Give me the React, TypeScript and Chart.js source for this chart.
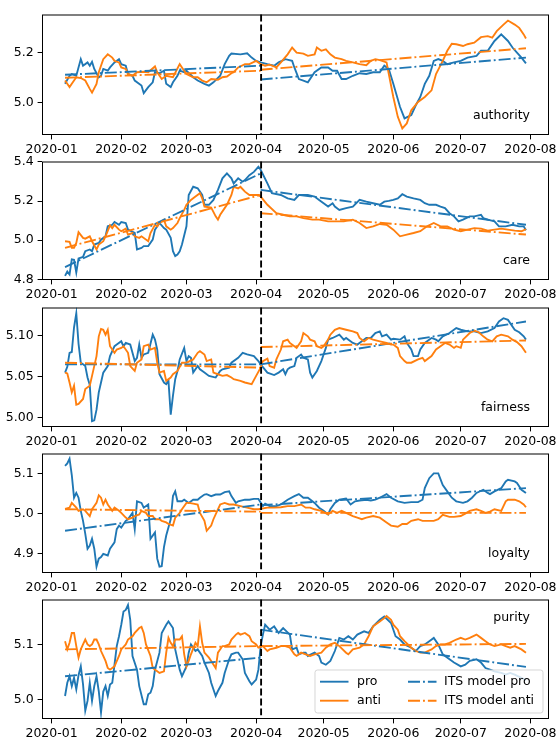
import React, { useEffect, useRef } from "react";
import { Chart, registerables } from "chart.js";

Chart.register(...registerables);
Chart.defaults.font.family = "'DejaVu Sans', sans-serif";

type Pt = [number, number];

// ---------- axes ----------
const monthTickDays = [0, 31, 60, 91, 121, 152, 182, 213];
const monthTickLabels = ["2020-01", "2020-02", "2020-03", "2020-04", "2020-05", "2020-06", "2020-07", "2020-08"];
const interventionDay = 93.2;
const xMin = -4.25;
const xMax = 221.25;

const panelNames = ["authority", "care", "fairness", "loyalty", "purity"];
const legendLabels = ["pro", "anti", "ITS model pro", "ITS model anti"];

// ---------- authority ----------
const authorityPro: Pt[] = [[6,5.076],[8,5.108],[9,5.115],[11,5.108],[13,5.174],[14,5.148],[16,5.161],[17,5.148],[18,5.163],[19,5.135],[21,5.102],[22,5.108],[23,5.135],[25,5.128],[26,5.141],[28,5.161],[30,5.174],[31,5.154],[33,5.148],[34,5.115],[36,5.108],[37,5.089],[40,5.069],[41,5.039],[43,5.063],[45,5.082],[46,5.122],[48,5.118],[50,5.128],[51,5.076],[53,5.063],[54,5.082],[56,5.108],[57,5.128],[59,5.122],[60,5.128],[63,5.102],[65,5.089],[68,5.076],[70,5.069],[72,5.082],[75,5.108],[77,5.154],[79,5.187],[80,5.196],[84,5.193],[87,5.197],[89,5.18],[91,5.167],[93,5.161],[96,5.154],[99,5.148],[101,5.161],[104,5.174],[107,5.167],[108,5.141],[110,5.095],[112,5.089],[114,5.082],[117,5.122],[120,5.141],[123,5.141],[125,5.128],[127,5.128],[129,5.095],[131,5.095],[134,5.108],[137,5.118],[140,5.115],[143,5.122],[146,5.122],[148,5.148],[150,5.135],[152,5.076],[155,4.984],[157,4.939],[160,4.952],[162,4.991],[164,5.024],[166,5.076],[168,5.108],[170,5.167],[172,5.174],[174,5.167],[176,5.154],[179,5.161],[182,5.167],[185,5.18],[189,5.187],[191,5.207],[194,5.207],[197,5.246],[200,5.272],[203,5.246],[205,5.22],[207,5.2],[209,5.18],[211,5.157]];
const authorityAnti: Pt[] = [[6,5.089],[8,5.063],[9,5.076],[11,5.102],[13,5.099],[15,5.089],[17,5.056],[18,5.041],[20,5.076],[21,5.122],[23,5.174],[25,5.193],[27,5.18],[28,5.167],[30,5.161],[31,5.141],[33,5.135],[34,5.115],[36,5.108],[38,5.122],[41,5.124],[43,5.122],[46,5.145],[47,5.122],[49,5.095],[51,5.108],[54,5.102],[57,5.154],[58,5.141],[60,5.115],[63,5.102],[65,5.102],[67,5.089],[69,5.082],[71,5.095],[74,5.092],[76,5.102],[78,5.105],[80,5.118],[81,5.122],[83,5.141],[86,5.154],[88,5.154],[91,5.167],[93,5.154],[95,5.148],[97,5.152],[100,5.141],[102,5.161],[105,5.193],[107,5.22],[109,5.2],[112,5.196],[114,5.187],[117,5.193],[118,5.22],[120,5.207],[122,5.213],[124,5.193],[126,5.18],[129,5.174],[131,5.167],[134,5.161],[137,5.154],[140,5.15],[142,5.167],[144,5.174],[146,5.17],[149,5.161],[150,5.115],[152,5.024],[154,4.945],[156,4.899],[158,4.919],[160,4.971],[163,5.004],[166,5.024],[169,5.05],[171,5.115],[174,5.167],[176,5.207],[178,5.235],[180,5.233],[183,5.226],[185,5.233],[188,5.239],[191,5.261],[194,5.265],[196,5.259],[198,5.285],[201,5.311],[203,5.327],[206,5.311],[208,5.298],[210,5.272],[211,5.256]];
const authorityItsPro: Pt[][] = [[[6,5.112],[93,5.148]], [[93,5.093],[211,5.18]]];
const authorityItsAnti: Pt[][] = [[[6,5.1],[93,5.128]], [[93,5.132],[211,5.217]]];

// ---------- care ----------
const carePro: Pt[] = [[6,4.818],[7,4.84],[8,4.825],[9,4.902],[10,4.9],[11,4.835],[12,4.907],[14,4.915],[15,4.944],[17,4.953],[18,4.944],[19,4.978],[21,4.986],[22,5.003],[24,5.02],[25,5.071],[27,5.079],[28,5.093],[30,5.079],[31,5.093],[33,5.088],[34,5.054],[37,5.037],[38,4.953],[40,4.961],[41,4.97],[43,4.97],[45,5.003],[46,5.054],[48,5.088],[50,5.062],[51,5.054],[53,5.012],[54,4.944],[55,4.919],[56,4.927],[57,4.944],[58,4.978],[60,5.071],[61,5.231],[63,5.273],[65,5.265],[67,5.231],[68,5.181],[70,5.181],[72,5.206],[74,5.257],[76,5.316],[78,5.341],[80,5.316],[81,5.29],[83,5.316],[85,5.299],[86,5.307],[88,5.332],[90,5.349],[92,5.375],[93,5.36],[96,5.29],[98,5.24],[102,5.231],[105,5.214],[108,5.206],[110,5.231],[114,5.231],[117,5.223],[119,5.206],[121,5.189],[123,5.172],[125,5.189],[126,5.172],[128,5.155],[131,5.164],[134,5.172],[137,5.206],[140,5.197],[143,5.189],[146,5.181],[148,5.197],[150,5.201],[152,5.206],[154,5.214],[156,5.235],[158,5.223],[161,5.214],[164,5.206],[166,5.189],[168,5.181],[171,5.181],[173,5.172],[175,5.164],[177,5.138],[179,5.122],[181,5.096],[183,5.105],[186,5.122],[188,5.122],[191,5.13],[192,5.113],[194,5.105],[197,5.096],[199,5.071],[202,5.071],[205,5.079],[208,5.071],[210,5.071],[211,5.051]];
const careAnti: Pt[] = [[6,4.995],[8,4.992],[9,4.961],[10,4.961],[11,4.986],[12,5.041],[14,5.012],[15,5.008],[17,5.02],[18,4.995],[20,4.953],[21,4.978],[23,4.995],[24,5.02],[26,5.076],[27,5.062],[28,5.079],[30,5.054],[31,5.046],[33,5.059],[34,5.029],[36,5.037],[37,5.02],[39,5.012],[40,5.02],[43,4.995],[44,5.037],[46,5.079],[47,5.071],[48,5.088],[50,5.105],[51,5.071],[53,5.054],[54,5.062],[56,5.088],[57,5.113],[59,5.155],[60,5.181],[62,5.206],[64,5.223],[66,5.24],[67,5.214],[68,5.172],[71,5.167],[73,5.122],[74,5.105],[75,5.13],[77,5.164],[78,5.181],[80,5.231],[81,5.273],[83,5.265],[84,5.273],[86,5.248],[88,5.231],[90,5.231],[92,5.231],[93,5.223],[96,5.181],[100,5.138],[103,5.13],[106,5.122],[109,5.122],[112,5.113],[116,5.105],[119,5.105],[123,5.096],[126,5.096],[130,5.096],[134,5.105],[137,5.088],[140,5.062],[143,5.071],[146,5.083],[149,5.079],[152,5.054],[155,5.02],[158,5.029],[161,5.037],[164,5.046],[167,5.071],[170,5.088],[173,5.071],[176,5.071],[179,5.054],[182,5.046],[185,5.054],[188,5.062],[191,5.059],[194,5.049],[197,5.054],[200,5.059],[203,5.054],[206,5.049],[209,5.046],[211,5.057]];
const careItsPro: Pt[][] = [[[6,4.863],[93,5.341]], [[93,5.257],[211,5.079]]];
const careItsAnti: Pt[][] = [[[6,4.961],[93,5.231]], [[93,5.138],[211,5.029]]];

// ---------- fairness ----------
const fairnessPro: Pt[] = [[6,5.055],[7,5.062],[8,5.079],[9,5.08],[10,5.11],[11,5.127],[12,5.09],[13,5.067],[14,5.065],[15,5.063],[16,5.049],[17,5.04],[18,4.996],[19,4.997],[20,5.01],[21,5.031],[22,5.043],[23,5.055],[25,5.063],[26,5.075],[28,5.087],[29,5.089],[31,5.093],[32,5.087],[33,5.091],[35,5.089],[37,5.069],[38,5.073],[39,5.089],[40,5.073],[41,5.077],[43,5.079],[45,5.101],[46,5.095],[47,5.083],[48,5.053],[50,5.043],[51,5.041],[52,5.045],[53,5.004],[54,5.027],[55,5.047],[56,5.057],[57,5.071],[59,5.085],[60,5.069],[61,5.075],[62,5.073],[63,5.055],[65,5.063],[66,5.059],[68,5.055],[70,5.051],[73,5.049],[75,5.057],[76,5.059],[79,5.061],[80,5.067],[83,5.073],[85,5.079],[87,5.077],[90,5.075],[92,5.069],[93,5.065],[96,5.055],[99,5.052],[101,5.055],[103,5.059],[104,5.053],[105,5.059],[106,5.061],[108,5.063],[109,5.073],[111,5.077],[112,5.073],[114,5.071],[115,5.055],[116,5.049],[118,5.057],[120,5.069],[122,5.085],[123,5.095],[125,5.097],[128,5.101],[130,5.095],[131,5.097],[134,5.091],[136,5.089],[138,5.093],[140,5.097],[142,5.097],[144,5.103],[146,5.105],[147,5.099],[149,5.101],[151,5.095],[152,5.096],[155,5.095],[157,5.099],[158,5.091],[160,5.083],[161,5.075],[163,5.075],[164,5.083],[166,5.091],[169,5.097],[171,5.095],[172,5.093],[174,5.099],[177,5.103],[180,5.109],[182,5.107],[185,5.105],[188,5.105],[191,5.103],[194,5.105],[197,5.109],[199,5.117],[201,5.121],[203,5.119],[206,5.107],[208,5.104],[210,5.099],[211,5.095]];
const fairnessAnti: Pt[] = [[6,5.055],[7,5.054],[8,5.043],[9,5.031],[10,5.039],[11,5.016],[12,5.017],[14,5.023],[15,5.035],[17,5.039],[18,5.051],[20,5.075],[21,5.099],[22,5.108],[23,5.107],[24,5.101],[25,5.107],[26,5.087],[28,5.079],[29,5.083],[31,5.085],[32,5.087],[34,5.079],[35,5.063],[37,5.057],[38,5.067],[40,5.071],[41,5.087],[43,5.089],[44,5.083],[46,5.085],[47,5.067],[48,5.055],[50,5.057],[51,5.045],[53,5.049],[54,5.053],[56,5.057],[58,5.067],[60,5.067],[63,5.071],[65,5.079],[66,5.081],[68,5.077],[69,5.069],[71,5.071],[72,5.055],[74,5.053],[76,5.051],[78,5.052],[80,5.049],[81,5.047],[84,5.045],[86,5.043],[89,5.041],[91,5.051],[93,5.061],[94,5.069],[96,5.072],[97,5.063],[99,5.061],[100,5.071],[102,5.083],[103,5.093],[105,5.095],[106,5.091],[108,5.087],[109,5.085],[111,5.093],[112,5.103],[114,5.099],[115,5.095],[117,5.093],[118,5.087],[120,5.085],[121,5.087],[123,5.095],[124,5.101],[126,5.107],[128,5.109],[131,5.107],[134,5.105],[136,5.103],[137,5.097],[139,5.093],[141,5.097],[143,5.095],[146,5.093],[149,5.091],[151,5.089],[152,5.089],[154,5.085],[155,5.075],[157,5.069],[158,5.067],[160,5.067],[163,5.071],[165,5.073],[166,5.069],[169,5.075],[171,5.083],[173,5.087],[175,5.091],[177,5.089],[179,5.085],[180,5.087],[182,5.085],[183,5.095],[186,5.103],[188,5.106],[190,5.104],[192,5.099],[194,5.095],[196,5.093],[198,5.099],[200,5.101],[203,5.099],[205,5.095],[207,5.092],[209,5.087],[211,5.079]];
const fairnessItsPro: Pt[][] = [[[6,5.065],[93,5.065]], [[93,5.065],[211,5.117]]];
const fairnessItsAnti: Pt[][] = [[[6,5.067],[93,5.061]], [[93,5.086],[211,5.094]]];

// ---------- loyalty ----------
const loyaltyPro: Pt[] = [[6,5.12],[7,5.126],[8,5.138],[9,5.097],[10,5.04],[11,5.052],[12,5.04],[13,5.007],[14,4.982],[15,4.949],[16,4.912],[17,4.92],[18,4.937],[19,4.912],[20,4.867],[21,4.887],[22,4.891],[23,4.899],[25,4.895],[26,4.912],[28,4.928],[29,4.961],[30,4.97],[31,4.965],[33,4.982],[34,4.986],[36,5.002],[37,4.961],[38,5.031],[40,5.027],[41,5.015],[43,5.023],[44,4.937],[46,4.953],[47,4.887],[48,4.867],[49,4.868],[50,4.916],[51,4.945],[53,4.986],[54,5.044],[55,5.056],[56,5.031],[58,5.031],[59,5.035],[61,5.027],[63,5.035],[65,5.035],[66,5.04],[68,5.048],[69,5.049],[71,5.044],[73,5.048],[75,5.048],[77,5.054],[79,5.056],[80,5.044],[82,5.027],[83,5.031],[86,5.035],[88,5.035],[90,5.037],[92,5.037],[94,5.019],[95,5.025],[97,5.019],[100,5.019],[102,5.023],[105,5.035],[108,5.044],[110,5.049],[112,5.04],[114,5.04],[117,5.027],[119,5.015],[121,5.007],[123,4.998],[124,5.011],[126,5.027],[128,5.035],[131,5.038],[133,5.023],[135,5.031],[137,5.033],[140,5.035],[142,5.033],[144,5.035],[146,5.04],[149,5.049],[151,5.04],[154,5.031],[157,5.027],[160,5.029],[163,5.029],[165,5.035],[166,5.064],[168,5.089],[170,5.101],[172,5.101],[174,5.072],[176,5.056],[178,5.04],[180,5.031],[183,5.027],[185,5.031],[187,5.04],[189,5.052],[192,5.06],[194,5.052],[195,5.049],[197,5.056],[200,5.064],[202,5.081],[203,5.085],[206,5.081],[207,5.077],[209,5.06],[211,5.052]];
const loyaltyAnti: Pt[] = [[6,5.012],[8,5.015],[9,5.027],[11,5.015],[12,5.007],[14,5.011],[15,5.007],[17,4.994],[18,5.011],[20,5.027],[21,5.046],[22,5.04],[23,5.023],[24,5.035],[25,5.023],[27,5.007],[28,5.015],[30,5.007],[31,5.002],[33,4.99],[34,4.986],[36,4.99],[37,4.994],[39,4.998],[40,5.007],[42,5.002],[43,4.994],[45,4.994],[46,4.986],[48,4.986],[49,4.982],[51,4.978],[52,4.974],[54,4.97],[55,4.99],[57,5.002],[58,5.011],[60,5.027],[61,5.027],[63,5.025],[65,5.023],[66,5.002],[68,4.982],[69,4.957],[71,4.97],[72,4.986],[74,5.011],[75,5.023],[77,5.027],[79,5.023],[81,5.023],[84,5.019],[87,5.015],[90,5.011],[92,5.011],[96,5.015],[99,5.015],[102,5.016],[105,5.019],[108,5.019],[111,5.023],[113,5.015],[115,5.015],[117,5.011],[120,5.007],[123,4.998],[125,5.007],[127,5.002],[129,5.007],[131,5.002],[134,4.994],[136,4.99],[138,4.986],[140,4.99],[143,4.994],[146,4.99],[149,4.978],[151,4.97],[154,4.967],[156,4.974],[158,4.974],[160,4.982],[163,4.986],[165,4.982],[167,4.982],[170,4.982],[172,4.986],[174,4.997],[177,4.992],[179,4.992],[182,4.994],[184,5.0],[186,5.007],[189,5.011],[191,5.007],[193,5.002],[195,5.005],[197,5.011],[200,5.007],[202,5.031],[203,5.035],[206,5.035],[208,5.031],[210,5.023],[211,5.016]];
const loyaltyItsPro: Pt[][] = [[[6,4.957],[93,5.023]], [[93,5.021],[211,5.064]]];
const loyaltyItsAnti: Pt[][] = [[[6,5.011],[93,5.005]], [[93,5.002],[211,5.002]]];

// ---------- purity ----------
const purityPro: Pt[] = [[6,5.007],[7,5.031],[8,5.043],[9,5.025],[10,5.04],[11,5.019],[12,5.045],[13,5.061],[14,5.028],[15,4.98],[16,4.998],[17,5.031],[18,4.998],[19,5.025],[20,5.043],[21,5.016],[22,4.977],[23,5.015],[24,5.025],[25,5.007],[26,5.028],[27,5.031],[28,5.064],[29,5.098],[30,5.116],[31,5.137],[32,5.161],[33,5.164],[34,5.173],[35,5.146],[36,5.08],[38,5.055],[39,5.025],[41,4.992],[42,4.992],[43,5.01],[44,5.013],[45,5.025],[46,5.055],[48,5.086],[49,5.122],[51,5.137],[52,5.143],[54,5.131],[55,5.092],[57,5.055],[58,5.043],[60,5.061],[61,5.086],[62,5.101],[64,5.089],[65,5.092],[67,5.08],[68,5.068],[70,5.049],[71,5.031],[73,5.007],[74,5.016],[76,5.031],[77,5.049],[79,5.074],[80,5.083],[82,5.086],[83,5.086],[85,5.074],[86,5.049],[88,5.034],[89,5.028],[91,5.037],[92,5.055],[93,5.098],[94,5.119],[95,5.137],[97,5.128],[99,5.134],[101,5.122],[103,5.131],[106,5.119],[107,5.092],[109,5.095],[110,5.083],[112,5.086],[113,5.086],[114,5.08],[117,5.086],[119,5.08],[120,5.068],[122,5.064],[124,5.071],[126,5.089],[128,5.113],[130,5.11],[132,5.116],[134,5.11],[136,5.119],[139,5.125],[141,5.122],[143,5.134],[146,5.146],[148,5.152],[151,5.14],[153,5.116],[155,5.11],[157,5.101],[160,5.095],[162,5.089],[164,5.098],[166,5.101],[168,5.107],[170,5.113],[172,5.101],[174,5.083],[177,5.074],[179,5.068],[182,5.061],[184,5.064],[186,5.071],[189,5.074],[191,5.068],[193,5.058],[195,5.055],[197,5.052],[200,5.049],[202,5.046],[204,5.049],[206,5.046],[209,5.04],[211,5.036]];
const purityAnti: Pt[] = [[6,5.107],[7,5.092],[8,5.104],[9,5.122],[10,5.122],[11,5.098],[12,5.077],[13,5.092],[14,5.101],[15,5.11],[16,5.101],[17,5.098],[18,5.101],[19,5.11],[20,5.11],[21,5.101],[22,5.089],[23,5.08],[24,5.071],[25,5.058],[26,5.055],[27,5.058],[28,5.061],[30,5.08],[31,5.092],[33,5.101],[34,5.11],[36,5.116],[37,5.122],[39,5.131],[40,5.133],[41,5.122],[42,5.101],[44,5.08],[45,5.058],[47,5.052],[48,5.049],[50,5.052],[51,5.086],[52,5.113],[53,5.104],[54,5.098],[55,5.11],[57,5.11],[58,5.116],[59,5.083],[60,5.061],[61,5.071],[62,5.083],[64,5.104],[65,5.098],[66,5.134],[67,5.104],[68,5.086],[70,5.077],[71,5.071],[73,5.058],[74,5.086],[76,5.098],[77,5.098],[79,5.101],[80,5.11],[82,5.119],[83,5.122],[84,5.119],[86,5.122],[88,5.116],[89,5.107],[91,5.101],[92,5.095],[94,5.098],[96,5.089],[97,5.092],[100,5.095],[102,5.098],[104,5.098],[106,5.095],[108,5.083],[109,5.08],[111,5.086],[113,5.083],[115,5.08],[117,5.083],[120,5.086],[122,5.095],[124,5.101],[126,5.104],[128,5.098],[131,5.086],[132,5.083],[134,5.092],[137,5.095],[139,5.101],[141,5.116],[143,5.134],[146,5.143],[148,5.149],[149,5.153],[151,5.146],[152,5.137],[154,5.128],[155,5.116],[157,5.107],[160,5.095],[162,5.089],[164,5.086],[166,5.086],[169,5.092],[171,5.098],[173,5.101],[175,5.101],[177,5.104],[180,5.11],[182,5.113],[184,5.11],[186,5.113],[189,5.119],[191,5.113],[193,5.107],[195,5.101],[197,5.098],[200,5.101],[202,5.098],[204,5.095],[206,5.098],[209,5.092],[211,5.086]];
const purityItsPro: Pt[][] = [[[6,5.043],[93,5.077]], [[93,5.128],[211,5.06]]];
const purityItsAnti: Pt[][] = [[[6,5.092],[93,5.098]], [[93,5.098],[211,5.102]]];

// ---------- y axes ----------
const authorityYTicks = [5.0, 5.2];
const authorityYLabels = ["5.0", "5.2"];
const careYTicks = [4.8, 5.0, 5.2, 5.4];
const careYLabels = ["4.8", "5.0", "5.2", "5.4"];
const fairnessYTicks = [5.0, 5.05, 5.1];
const fairnessYLabels = ["5.00", "5.05", "5.10"];
const loyaltyYTicks = [4.9, 5.0, 5.1];
const loyaltyYLabels = ["4.9", "5.0", "5.1"];
const purityYTicks = [5.0, 5.1];
const purityYLabels = ["5.0", "5.1"];

const yRanges: Pt[] = [[4.873, 5.351], [4.797, 5.402], [4.989, 5.134], [4.851, 5.151], [4.965, 5.183]];

// ---------- style / layout ----------
const PRO = "#1f77b4";
const ANTI = "#ff7f0e";
const LW = 1.875;
const DASHDOT = [12, 3, 1.9, 3];
const FONT = "12.5px 'DejaVu Sans', sans-serif";
const plotTops = [13, 160, 306, 452, 598];
const plotBottoms = [135, 280, 427, 573, 719];
const PAD_TOP = 10;
const X_AXIS_H = 24;
const Y_AXIS_W = 42;
const RIGHT_PAD = 11;

interface PanelData {
  name: string;
  pro: Pt[];
  anti: Pt[];
  itsPro: Pt[][];
  itsAnti: Pt[][];
  yTicks: number[];
  yLabels: string[];
  labelAtTop: boolean;
  legend: boolean;
}

const panels: PanelData[] = [
  { name: panelNames[0], pro: authorityPro, anti: authorityAnti, itsPro: authorityItsPro, itsAnti: authorityItsAnti, yTicks: authorityYTicks, yLabels: authorityYLabels, labelAtTop: false, legend: false },
  { name: panelNames[1], pro: carePro, anti: careAnti, itsPro: careItsPro, itsAnti: careItsAnti, yTicks: careYTicks, yLabels: careYLabels, labelAtTop: false, legend: false },
  { name: panelNames[2], pro: fairnessPro, anti: fairnessAnti, itsPro: fairnessItsPro, itsAnti: fairnessItsAnti, yTicks: fairnessYTicks, yLabels: fairnessYLabels, labelAtTop: false, legend: false },
  { name: panelNames[3], pro: loyaltyPro, anti: loyaltyAnti, itsPro: loyaltyItsPro, itsAnti: loyaltyItsAnti, yTicks: loyaltyYTicks, yLabels: loyaltyYLabels, labelAtTop: false, legend: false },
  { name: panelNames[4], pro: purityPro, anti: purityAnti, itsPro: purityItsPro, itsAnti: purityItsAnti, yTicks: purityYTicks, yLabels: purityYLabels, labelAtTop: true, legend: true },
];

const toXY = (pts: Pt[]) => pts.map(([x, y]) => ({ x, y }));

function drawLegend(ctx: CanvasRenderingContext2D, a: { left: number; top: number; right: number; bottom: number }) {
  const w = 228, h = 43;
  const L = a.right - 6 - w;
  const T = a.bottom - 6 - h;
  ctx.save();
  ctx.beginPath();
  const r = 2.5;
  ctx.moveTo(L + r, T);
  ctx.lineTo(L + w - r, T);
  ctx.quadraticCurveTo(L + w, T, L + w, T + r);
  ctx.lineTo(L + w, T + h - r);
  ctx.quadraticCurveTo(L + w, T + h, L + w - r, T + h);
  ctx.lineTo(L + r, T + h);
  ctx.quadraticCurveTo(L, T + h, L, T + h - r);
  ctx.lineTo(L, T + r);
  ctx.quadraticCurveTo(L, T, L + r, T);
  ctx.closePath();
  ctx.fillStyle = "rgba(255,255,255,0.8)";
  ctx.fill();
  ctx.strokeStyle = "rgba(204,204,204,0.8)";
  ctx.lineWidth = 1;
  ctx.stroke();

  const entries = [
    { label: legendLabels[0], color: PRO, dash: [] as number[], col: 0, row: 0 },
    { label: legendLabels[1], color: ANTI, dash: [] as number[], col: 0, row: 1 },
    { label: legendLabels[2], color: PRO, dash: DASHDOT, col: 1, row: 0 },
    { label: legendLabels[3], color: ANTI, dash: DASHDOT, col: 1, row: 1 },
  ];
  const colHandle = [5, 93];
  const colText = [42, 129];
  const rowY = [11.7, 30.7];
  ctx.font = FONT;
  ctx.textAlign = "left";
  ctx.textBaseline = "middle";
  for (const e of entries) {
    const y = T + rowY[e.row];
    ctx.beginPath();
    ctx.setLineDash(e.dash);
    ctx.strokeStyle = e.color;
    ctx.lineWidth = LW;
    ctx.moveTo(L + colHandle[e.col], y);
    ctx.lineTo(L + colHandle[e.col] + 28.5, y);
    ctx.stroke();
    ctx.setLineDash([]);
    ctx.fillStyle = "#000";
    ctx.fillText(e.label, L + colText[e.col], y + 0.5);
  }
  ctx.restore();
}

function Panel({ index }: { index: number }) {
  const ref = useRef<HTMLCanvasElement>(null);
  const p = panels[index];
  const plotH = plotBottoms[index] - plotTops[index];
  const canvasH = PAD_TOP + plotH + X_AXIS_H;

  useEffect(() => {
    if (!ref.current) return;
    const datasets: any[] = [];
    let order = 20;
    datasets.push({ data: toXY(p.pro), borderColor: PRO, borderWidth: LW, pointRadius: 0, fill: false, tension: 0, order: order-- });
    datasets.push({ data: toXY(p.anti), borderColor: ANTI, borderWidth: LW, pointRadius: 0, fill: false, tension: 0, order: order-- });
    for (const seg of p.itsPro) {
      datasets.push({ data: toXY(seg), borderColor: PRO, borderWidth: LW, borderDash: DASHDOT, pointRadius: 0, fill: false, tension: 0, order: order-- });
    }
    for (const seg of p.itsAnti) {
      datasets.push({ data: toXY(seg), borderColor: ANTI, borderWidth: LW, borderDash: DASHDOT, pointRadius: 0, fill: false, tension: 0, order: order-- });
    }

    const decor = {
      id: "decor",
      afterDatasetsDraw(chart: any) {
        const { ctx, chartArea: a, scales } = chart;
        ctx.save();
        const x = scales.x.getPixelForValue(interventionDay);
        ctx.strokeStyle = "#000";
        ctx.lineWidth = LW;
        ctx.setLineDash([6.9, 3]);
        ctx.beginPath();
        ctx.moveTo(x, a.top);
        ctx.lineTo(x, a.bottom);
        ctx.stroke();
        ctx.setLineDash([]);
        ctx.lineWidth = 1;
        ctx.strokeRect(a.left + 0.5, a.top + 0.5, a.right - a.left - 1, a.bottom - a.top - 1);
        ctx.font = FONT;
        ctx.fillStyle = "#000";
        ctx.textAlign = "right";
        ctx.textBaseline = "middle";
        ctx.fillText(p.name, a.right - 19, p.labelAtTop ? a.top + 18 : a.bottom - 19);
        ctx.restore();
        if (p.legend) drawLegend(ctx, a);
      },
    };

    const chart = new Chart(ref.current, {
      type: "line",
      data: { datasets },
      options: {
        animation: false,
        responsive: false,
        devicePixelRatio: 1,
        events: [],
        layout: { padding: { top: PAD_TOP, left: 0, right: RIGHT_PAD, bottom: 0 } },
        plugins: { legend: { display: false }, tooltip: { enabled: false } },
        scales: {
          x: {
            type: "linear",
            min: xMin,
            max: xMax,
            afterBuildTicks: (s: any) => {
              s.ticks = monthTickDays.map((v) => ({ value: v }));
            },
            afterFit: (s: any) => {
              s.height = X_AXIS_H;
            },
            ticks: {
              autoSkip: false,
              maxRotation: 0,
              minRotation: 0,
              padding: 3,
              color: "#000",
              font: { size: 12.5 },
              callback: (v: any) => monthTickLabels[monthTickDays.indexOf(Number(v))],
            },
            grid: { display: true, drawOnChartArea: false, drawTicks: true, tickLength: 4.4, tickColor: "#000", tickWidth: 1 },
            border: { display: false },
          },
          y: {
            type: "linear",
            min: yRanges[index][0],
            max: yRanges[index][1],
            afterBuildTicks: (s: any) => {
              s.ticks = p.yTicks.map((v) => ({ value: v }));
            },
            afterFit: (s: any) => {
              s.width = Y_AXIS_W;
            },
            ticks: {
              padding: 4,
              color: "#000",
              font: { size: 12.5 },
              callback: (v: any) => p.yLabels[p.yTicks.indexOf(Number(v))],
            },
            grid: { display: true, drawOnChartArea: false, drawTicks: true, tickLength: 4.4, tickColor: "#000", tickWidth: 1 },
            border: { display: false },
          },
        },
      },
      plugins: [decor],
    } as any);
    return () => chart.destroy();
  }, [index]);

  return (
    <canvas
      ref={ref}
      width={560}
      height={canvasH}
      style={{ position: "absolute", left: 0, top: plotTops[index] - PAD_TOP, width: 560, height: canvasH, display: "block" }}
    />
  );
}

export default function App() {
  return (
    <div style={{ position: "absolute", left: 0, top: 0, width: 560, height: 738, background: "#fff", overflow: "hidden" }}>
      {panels.map((_, i) => (
        <Panel key={i} index={i} />
      ))}
    </div>
  );
}
